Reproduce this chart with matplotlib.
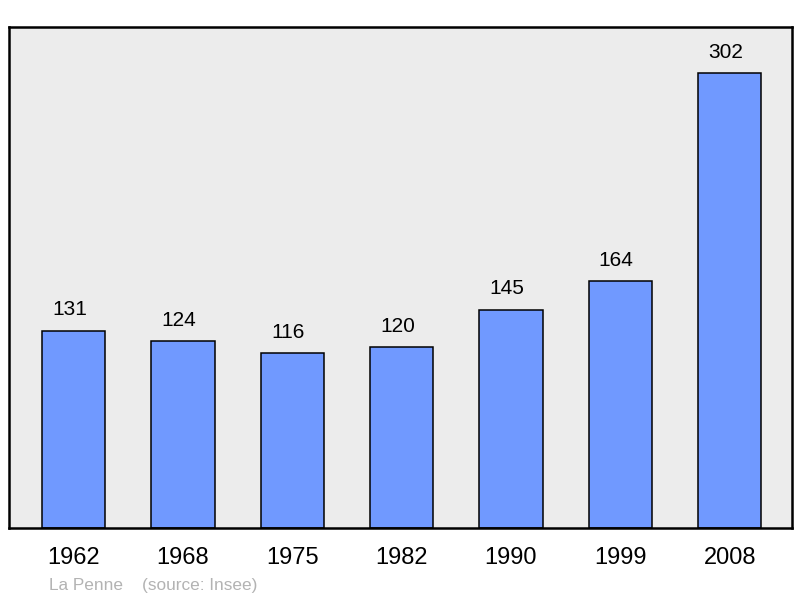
import matplotlib.pyplot as plt
import numpy as np

plt.rcParams['font.family'] = ['Liberation Sans', 'DejaVu Sans']

# Population de La Penne (source : Insee)
years = ['1962', '1968', '1975', '1982', '1990', '1999', '2008']
population = [131, 124, 116, 120, 145, 164, 302]

fig = plt.figure(figsize=(8, 5.98), dpi=100)
ax = fig.add_axes([9 / 800, 70 / 598, 783 / 800, 501 / 598])
ax.set_facecolor('#ececec')

x = np.arange(len(years))
bars = ax.bar(x, population, width=0.58, color='#7099ff', edgecolor='black', linewidth=1.1, zorder=2)

# Valeurs au-dessus des barres
for xi, val in zip(x, population):
    ax.annotate(str(val), (xi, val), xytext=(-3, 11), textcoords='offset points',
                ha='center', va='baseline', fontsize=15, color='black')

ax.set_xlim(-0.59, 6.57)
ax.set_ylim(0, 332.5)
ax.set_xticks(x)
ax.set_xticklabels(years, fontsize=17)
ax.tick_params(axis='x', length=0, pad=14)
ax.set_yticks([])

for s in ax.spines.values():
    s.set_linewidth(1.8)
    s.set_color('black')

fig.text(49 / 800, 1 - 590 / 598, 'La Penne', fontsize=12.4, color='#b3b3b3', va='baseline')
fig.text(142 / 800, 1 - 590 / 598, '(source: Insee)', fontsize=12.4, color='#b3b3b3', va='baseline')

plt.savefig('out.png', dpi=100)
